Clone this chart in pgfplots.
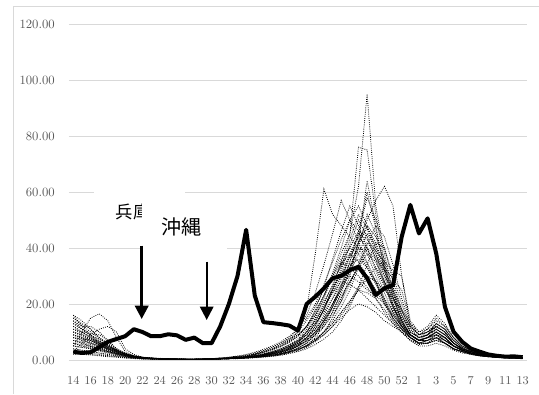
\documentclass[border=0pt]{standalone}
\usepackage{pgfplots}
\pgfplotsset{compat=1.18}
\usepackage{fontspec}
\usetikzlibrary{arrows.meta}
\newfontfamily\cjk{Noto Sans CJK JP}
\definecolor{gridc}{HTML}{D9D9D9}
\definecolor{lab}{HTML}{595959}
\newcommand\pl[1]{\addplot[dl] table[x expr=\coordindex, y index=0, header=false, row sep=\\]{#1\\};}
\begin{document}
\begin{tikzpicture}[x=0.75pt,y=0.75pt]
\path[use as bounding box] (0,0) rectangle (539,394);
\draw[gridc, line width=0.75pt] (13,0) -- (13,388) -- (539,388);
\begin{axis}[
  at={(51.75pt,25.5pt)}, anchor=south west,
  scale only axis, width=343.5pt, height=252pt,
  xmin=-0.5, xmax=52.5, ymin=0, ymax=120,
  axis line style={draw=none},
  major tick length=0pt,
  ytick={0,20,...,120},
  xtick={0,2,...,52},
  xticklabels={14,16,18,20,22,24,26,28,30,32,34,36,38,40,42,44,46,48,50,52,1,3,5,7,9,11,13},
  xmajorgrids=false, ymajorgrids=true,
  major grid style={draw=gridc, line width=0.75pt},
  yticklabel style={anchor=east, inner sep=0pt, xshift=-10.5pt, font=\fontsize{9.5}{10}\selectfont, text=lab},
  xticklabel style={anchor=north, inner sep=0pt, yshift=-12pt, font=\fontsize{9}{10}\selectfont, text=lab},
  /pgf/number format/.cd, fixed, fixed zerofill, precision=2, assume math mode=true,
  /pgfplots/.cd,
  dl/.style={black, line width=0.6pt, densely dotted},
]
\pl{15\\13\\11\\8\\6\\4\\2.5\\1.5\\1.0\\0.8\\0.6\\0.5\\0.4\\0.4\\0.3\\0.4\\0.5\\0.6\\0.8\\1.0\\1.3\\1.6\\2.0\\2.6\\3.2\\4.5\\6.5\\10\\15\\22\\30\\38\\45\\62\\95\\55\\38\\24\\15\\10\\8\\9\\11\\9\\6\\4\\2.8\\2\\1.5\\1.2\\1\\0.9\\0.8}
\pl{8\\7\\6\\5\\4\\3\\2\\1.2\\0.8\\0.6\\0.5\\0.4\\0.3\\0.3\\0.3\\0.3\\0.4\\0.5\\0.6\\0.8\\1.0\\1.2\\1.5\\2.0\\2.5\\3.5\\5\\8\\12\\18\\26\\35\\45\\76\\75\\52\\35\\22\\14\\9\\7\\8\\10\\8\\5\\3.5\\2.5\\1.8\\1.3\\1\\0.9\\0.8\\0.7}
\pl{4\\3.5\\3\\2.5\\2\\1.5\\1\\0.8\\0.5\\0.4\\0.3\\0.3\\0.3\\0.2\\0.2\\0.3\\0.4\\0.5\\0.7\\1.0\\1.4\\2.0\\2.8\\3.8\\5\\7\\10\\18\\38\\61\\52\\48\\44\\40\\34\\28\\20\\14\\10\\7\\6\\7\\8\\6\\4\\3\\2\\1.5\\1.2\\1\\0.8\\0.7\\0.6}
\pl{6\\5\\4.5\\4\\3\\2\\1.2\\0.8\\0.5\\0.4\\0.3\\0.3\\0.2\\0.2\\0.2\\0.2\\0.3\\0.4\\0.5\\0.6\\0.8\\1.0\\1.2\\1.5\\2\\2.8\\3.5\\5\\8\\12\\17\\24\\32\\42\\50\\57\\62\\55\\30\\12\\9\\10\\12\\10\\6\\4\\3\\2\\1.5\\1.2\\1\\0.8\\0.7}
\pl{5\\10\\15\\16.5\\14\\8\\3\\1.5\\1\\0.6\\0.5\\0.4\\0.3\\0.3\\0.3\\0.4\\0.5\\0.6\\0.7\\0.9\\1.1\\1.4\\1.8\\2.4\\3\\4\\5.5\\8\\11\\15\\20\\26\\33\\42\\48\\44\\36\\25\\16\\10\\8\\9\\12\\10\\6\\4\\3\\2\\1.5\\1.2\\1\\0.9\\0.8}
\pl{3\\6\\9\\11\\12\\10\\4\\2\\1\\0.7\\0.5\\0.4\\0.4\\0.3\\0.3\\0.3\\0.4\\0.5\\0.6\\0.8\\1.0\\1.3\\1.6\\2.2\\3\\4.2\\6\\10\\14\\20\\27\\34\\40\\46\\44\\36\\28\\20\\14\\9\\7\\8\\9\\7\\5\\3.5\\2.5\\1.8\\1.3\\1.1\\0.9\\0.8\\0.7}
\pl{16\\12\\9\\6\\4\\2.5\\1.5\\1\\0.7\\0.5\\0.4\\0.3\\0.3\\0.2\\0.2\\0.2\\0.3\\0.4\\0.5\\0.6\\0.8\\1.0\\1.3\\1.7\\2.2\\3\\4\\5\\7\\9\\12\\15\\18\\20\\19\\17\\14\\12\\10\\8\\6\\6\\7\\6\\4\\3\\2\\1.5\\1.2\\1\\0.8\\0.7\\0.6}
\pl{12\\10\\8\\6.5\\5\\3.5\\2.2\\1.4\\0.9\\0.6\\0.5\\0.4\\0.3\\0.3\\0.3\\0.3\\0.4\\0.5\\0.6\\0.8\\1.0\\1.3\\1.7\\2.3\\3\\4\\5.5\\8\\12\\18\\25\\33\\43\\52\\47\\38\\28\\19\\12\\8\\7\\8\\10\\8\\5\\3.5\\2.5\\1.8\\1.4\\1.1\\0.9\\0.8\\0.7}
\pl{10\\9\\7\\5.5\\4\\3\\2\\1.3\\0.8\\0.6\\0.4\\0.3\\0.3\\0.2\\0.2\\0.3\\0.3\\0.5\\0.7\\1.0\\1.4\\2\\2.8\\3.8\\5\\6.5\\8.5\\12\\17\\23\\30\\36\\40\\38\\33\\27\\21\\16\\12\\9\\7\\7\\9\\7\\5\\3.5\\2.5\\1.8\\1.4\\1.1\\0.9\\0.8\\0.7}
\pl{7\\6\\5\\4\\3\\2.2\\1.5\\1\\0.7\\0.5\\0.4\\0.3\\0.2\\0.2\\0.2\\0.2\\0.3\\0.4\\0.5\\0.6\\0.8\\1.0\\1.3\\1.7\\2.2\\3\\4.2\\6\\9\\14\\20\\27\\35\\45\\58\\50\\40\\28\\18\\11\\8\\9\\13\\11\\7\\4.5\\3\\2.2\\1.6\\1.3\\1.1\\0.9\\0.8}
\pl{9\\8\\6.5\\5\\3.8\\2.6\\1.6\\1\\0.7\\0.5\\0.4\\0.3\\0.3\\0.2\\0.2\\0.3\\0.4\\0.5\\0.6\\0.8\\1.1\\1.4\\1.8\\2.4\\3.2\\4.4\\6\\8\\11\\16\\22\\29\\37\\45\\43\\39\\35\\32\\30\\14\\10\\12\\16\\13\\8\\5\\3.5\\2.5\\1.8\\1.4\\1.1\\0.9\\0.8}
\pl{14\\11\\8.5\\6.5\\4.5\\3\\2\\1.2\\0.8\\0.6\\0.5\\0.4\\0.3\\0.3\\0.3\\0.3\\0.4\\0.6\\0.8\\1.1\\1.5\\2.1\\3\\4\\5.5\\7.5\\10\\14\\19\\25\\30\\35\\33\\30\\26\\22\\18\\14\\11\\8\\6\\6\\8\\6\\4\\3\\2.2\\1.6\\1.2\\1\\0.8\\0.7\\0.6}
\pl{5\\4.5\\4\\3.2\\2.5\\1.8\\1.2\\0.8\\0.5\\0.4\\0.3\\0.3\\0.2\\0.2\\0.2\\0.2\\0.3\\0.4\\0.5\\0.6\\0.7\\0.9\\1.2\\1.5\\2\\2.7\\3.6\\5\\7\\10\\15\\21\\30\\42\\64\\48\\32\\20\\12\\8\\6\\7\\8\\7\\5\\3.5\\2.5\\1.8\\1.3\\1.1\\0.9\\0.8\\0.7}
\pl{3\\2.8\\2.5\\2\\1.6\\1.2\\0.9\\0.6\\0.4\\0.3\\0.3\\0.2\\0.2\\0.2\\0.2\\0.2\\0.3\\0.4\\0.5\\0.6\\0.8\\1.0\\1.3\\1.6\\2.1\\2.8\\3.8\\5\\7\\10\\14\\19\\25\\33\\41\\48\\44\\34\\22\\12\\9\\10\\13\\11\\7\\4.5\\3.2\\2.3\\1.7\\1.3\\1.1\\0.9\\0.8}
\pl{11\\10\\9.5\\9\\7\\4\\2\\1.2\\0.8\\0.6\\0.5\\0.4\\0.3\\0.3\\0.3\\0.3\\0.4\\0.5\\0.6\\0.8\\1.0\\1.4\\1.9\\2.6\\3.5\\4.8\\6.5\\9\\13\\17\\22\\27\\30\\28\\25\\23\\20\\16\\12\\9\\7\\7\\8\\7\\5\\3.5\\2.5\\1.8\\1.3\\1.1\\0.9\\0.8\\0.7}
\pl{2\\2\\1.8\\1.5\\1.2\\1\\0.7\\0.5\\0.4\\0.3\\0.3\\0.3\\0.3\\0.3\\0.3\\0.4\\0.5\\0.7\\1.0\\1.4\\2\\2.8\\3.8\\5\\6.5\\8.5\\11\\15\\20\\27\\35\\43\\50\\55\\48\\40\\30\\20\\13\\9\\7\\8\\9\\8\\5\\3.5\\2.5\\1.8\\1.3\\1.1\\0.9\\0.8\\0.7}
\pl{8\\7\\6\\5\\4\\3\\2\\1.2\\0.7\\0.5\\0.4\\0.3\\0.3\\0.2\\0.2\\0.2\\0.3\\0.4\\0.5\\0.6\\0.8\\1.1\\1.5\\2\\2.6\\3.5\\4.8\\6.5\\9\\12\\16\\21\\27\\34\\42\\38\\30\\25\\18\\13\\10\\11\\14\\12\\8\\5\\3.5\\2.5\\1.8\\1.4\\1.1\\0.9\\0.8}
\pl{13\\11\\9\\7\\5\\3.5\\2.3\\1.4\\0.9\\0.7\\0.5\\0.4\\0.4\\0.3\\0.3\\0.3\\0.4\\0.5\\0.7\\0.9\\1.2\\1.6\\2.2\\3\\4\\5.5\\7.5\\11\\16\\23\\31\\40\\50\\46\\38\\30\\22\\15\\11\\8\\6\\6\\8\\6\\4\\3\\2.2\\1.6\\1.2\\1\\0.8\\0.7\\0.6}
\pl{6\\5.5\\4.8\\4\\3.2\\2.4\\1.6\\1\\0.6\\0.5\\0.4\\0.3\\0.3\\0.2\\0.2\\0.2\\0.3\\0.4\\0.5\\0.7\\0.9\\1.2\\1.6\\2.1\\2.8\\3.8\\5\\7\\10\\14\\18\\23\\28\\33\\38\\35\\27\\18\\12\\8\\6\\7\\9\\7\\5\\3.5\\2.5\\1.8\\1.3\\1.1\\0.9\\0.8\\0.7}
\pl{4\\3.5\\3\\2.5\\2\\1.5\\1\\0.7\\0.5\\0.4\\0.3\\0.3\\0.2\\0.2\\0.2\\0.2\\0.3\\0.3\\0.4\\0.5\\0.7\\0.9\\1.1\\1.4\\1.8\\2.4\\3.2\\4.5\\6.5\\9\\12\\16\\20\\25\\24\\22\\17\\13\\10\\7\\5\\5\\6\\5\\3.5\\2.5\\2\\1.5\\1.2\\1\\0.8\\0.7\\0.6}
\pl{15\\12.5\\10\\7.5\\5.5\\3.8\\2.4\\1.5\\1\\0.7\\0.5\\0.4\\0.3\\0.3\\0.3\\0.3\\0.4\\0.5\\0.6\\0.8\\1.1\\1.5\\2\\2.7\\3.6\\5\\7\\10\\14\\19\\25\\31\\38\\44\\40\\33\\26\\19\\13\\9\\7\\8\\10\\8\\5\\3.5\\2.5\\1.8\\1.4\\1.1\\0.9\\0.8\\0.7}
\pl{10\\8.5\\7\\5.5\\4\\2.8\\1.8\\1.1\\0.7\\0.5\\0.4\\0.3\\0.3\\0.3\\0.3\\0.3\\0.4\\0.6\\0.8\\1.1\\1.6\\2.3\\3.2\\4.4\\6\\8\\11\\16\\24\\34\\45\\57\\50\\42\\35\\28\\21\\15\\11\\8\\6\\6\\7\\6\\4\\3\\2.2\\1.6\\1.2\\1\\0.8\\0.7\\0.6}
\pl{7\\6\\5\\4.2\\3.3\\2.5\\1.7\\1.1\\0.7\\0.5\\0.4\\0.3\\0.3\\0.2\\0.2\\0.2\\0.3\\0.4\\0.5\\0.6\\0.8\\1.0\\1.3\\1.7\\2.2\\2.9\\3.8\\5\\7\\10\\13\\17\\21\\25\\29\\33\\28\\22\\17\\11\\8\\9\\11\\9\\6\\4\\3\\2.2\\1.6\\1.3\\1.1\\0.9\\0.8}
\pl{11\\9.5\\8\\6\\4.5\\3.2\\2.1\\1.3\\0.8\\0.6\\0.5\\0.4\\0.3\\0.3\\0.3\\0.3\\0.4\\0.5\\0.6\\0.8\\1.0\\1.3\\1.8\\2.4\\3.2\\4.3\\5.8\\8\\11\\15\\20\\26\\33\\40\\39\\36\\32\\26\\18\\10\\8\\10\\12\\10\\6\\4\\3\\2.2\\1.6\\1.3\\1.1\\0.9\\0.8}
\pl{9\\7.5\\6\\4.8\\3.6\\2.5\\1.6\\1\\0.6\\0.5\\0.4\\0.3\\0.2\\0.2\\0.2\\0.2\\0.3\\0.4\\0.5\\0.7\\0.9\\1.2\\1.6\\2.1\\2.8\\3.7\\5\\7\\10\\14\\19\\25\\32\\40\\52\\45\\34\\23\\14\\9\\7\\8\\10\\8\\5\\3.5\\2.5\\1.8\\1.4\\1.1\\0.9\\0.8\\0.7}
\pl{13\\11\\9\\7\\5\\3.5\\2.2\\1.4\\0.9\\0.6\\0.5\\0.4\\0.3\\0.3\\0.3\\0.3\\0.4\\0.5\\0.6\\0.8\\1.1\\1.5\\2\\2.7\\3.6\\4.8\\6.5\\9\\13\\18\\24\\30\\37\\42\\47\\42\\33\\24\\16\\10\\8\\9\\11\\9\\6\\4\\3\\2.1\\1.5\\1.2\\1\\0.9\\0.8}
\pl{12\\10\\8\\6\\4.5\\3\\2\\1.2\\0.8\\0.6\\0.5\\0.4\\0.4\\0.3\\0.3\\0.4\\0.5\\0.7\\1.0\\1.3\\1.8\\2.5\\3.4\\4.6\\6\\7.5\\9\\12\\16\\21\\26\\31\\34\\36\\33\\28\\22\\17\\12\\9\\7\\8\\10\\8\\5\\3.5\\2.5\\1.8\\1.4\\1.1\\0.9\\0.8\\0.7}
\pl{8\\7.5\\7\\6\\5\\3.5\\2\\1.2\\0.8\\0.5\\0.4\\0.3\\0.3\\0.2\\0.2\\0.3\\0.4\\0.5\\0.6\\0.8\\1.0\\1.3\\1.7\\2.3\\3\\4\\5.5\\7.5\\10\\14\\19\\25\\31\\38\\45\\41\\32\\22\\14\\9\\7\\8\\11\\9\\6\\4\\3\\2.1\\1.5\\1.2\\1\\0.9\\0.8}
\pl{14\\12\\12\\10\\7\\4\\2.2\\1.3\\0.8\\0.6\\0.5\\0.4\\0.3\\0.3\\0.3\\0.3\\0.4\\0.6\\0.8\\1.0\\1.4\\1.9\\2.6\\3.5\\4.7\\6.3\\8.5\\12\\18\\26\\36\\46\\55\\48\\40\\32\\24\\17\\12\\9\\7\\7\\9\\7\\5\\3.5\\2.5\\1.8\\1.3\\1.1\\0.9\\0.8\\0.7}
\pl{5\\4.5\\4\\3.5\\3\\2.2\\1.5\\1\\0.6\\0.5\\0.4\\0.3\\0.2\\0.2\\0.2\\0.2\\0.3\\0.4\\0.5\\0.7\\0.9\\1.1\\1.4\\1.8\\2.3\\3\\4\\5.5\\7.5\\10\\13\\17\\21\\26\\30\\28\\25\\22\\18\\12\\9\\11\\15\\12\\8\\5\\3.5\\2.5\\1.8\\1.4\\1.1\\0.9\\0.8}
\pl{2.5\\2.3\\2\\1.7\\1.4\\1.1\\0.8\\0.6\\0.4\\0.3\\0.3\\0.2\\0.2\\0.2\\0.2\\0.2\\0.3\\0.3\\0.4\\0.5\\0.6\\0.8\\1.0\\1.3\\1.7\\2.3\\3\\4\\5.5\\7.5\\10\\14\\19\\26\\34\\42\\40\\30\\20\\12\\9\\10\\12\\10\\6\\4\\3\\2.2\\1.6\\1.3\\1.1\\0.9\\0.8}
\pl{9\\8\\7\\5.5\\4\\2.8\\1.8\\1.1\\0.7\\0.5\\0.4\\0.3\\0.3\\0.2\\0.2\\0.3\\0.4\\0.5\\0.6\\0.8\\1.1\\1.5\\2\\2.7\\3.6\\4.8\\6.5\\9\\13\\18\\25\\32\\41\\50\\44\\36\\27\\19\\13\\9\\7\\8\\9\\8\\5\\3.5\\2.5\\1.8\\1.3\\1.1\\0.9\\0.8\\0.7}
\pl{16\\14\\11\\8\\5.5\\3.5\\2.2\\1.4\\0.9\\0.7\\0.5\\0.4\\0.4\\0.3\\0.3\\0.4\\0.5\\0.6\\0.8\\1.1\\1.5\\2\\2.8\\3.8\\5\\6.8\\9\\12\\17\\23\\29\\34\\38\\35\\30\\25\\20\\15\\11\\8\\6\\6\\8\\6\\4\\3\\2.2\\1.6\\1.2\\1\\0.8\\0.7\\0.6}
\pl{6\\5\\4.2\\3.5\\2.7\\2\\1.3\\0.9\\0.6\\0.4\\0.3\\0.3\\0.2\\0.2\\0.2\\0.2\\0.3\\0.4\\0.5\\0.6\\0.8\\1.0\\1.3\\1.7\\2.3\\3.1\\4.3\\6\\9\\13\\19\\26\\35\\46\\60\\47\\33\\22\\14\\9\\7\\9\\12\\10\\6\\4\\3\\2.1\\1.5\\1.2\\1\\0.9\\0.8}
\pl{10\\9\\7.5\\6\\4.5\\3\\2\\1.2\\0.8\\0.6\\0.4\\0.3\\0.3\\0.3\\0.3\\0.3\\0.4\\0.5\\0.7\\0.9\\1.2\\1.6\\2.2\\3\\4\\5.3\\7\\10\\14\\19\\24\\28\\27\\25\\22\\19\\16\\13\\10\\7\\5.5\\6\\7\\6\\4\\3\\2.2\\1.6\\1.2\\1\\0.8\\0.7\\0.6}
\pl{7\\6.5\\5.5\\4.5\\3.5\\2.5\\1.6\\1\\0.7\\0.5\\0.4\\0.3\\0.3\\0.2\\0.2\\0.3\\0.3\\0.4\\0.5\\0.7\\0.9\\1.2\\1.6\\2.1\\2.8\\3.7\\5\\7\\9.5\\13\\17\\22\\28\\34\\40\\37\\33\\29\\25\\13\\9\\10\\13\\11\\7\\4.5\\3.2\\2.3\\1.7\\1.3\\1.1\\0.9\\0.8}
% Okinawa
\addplot[black, line width=3pt, line join=round] table[x expr=\coordindex, y index=0, header=false, row sep=\\]{3.0\\2.5\\2.8\\4.5\\6.5\\7.5\\8.5\\11\\10\\8.5\\8.5\\9.2\\8.8\\7.2\\8.0\\6.0\\6.0\\12\\20\\30\\46.5\\23\\13.5\\13.2\\12.8\\12.3\\10.5\\20\\22.6\\25.6\\29.2\\30\\32.1\\33.3\\29.2\\23.2\\25.6\\26.8\\44\\55.4\\45.2\\50.6\\38\\19\\10.1\\6.5\\4.1\\3\\2\\1.5\\1.2\\1.3\\1.0\\};
\end{axis}
% annotations (pixel coordinates, origin bottom-left)
\fill[white] (94,204) rectangle (185,160);
\node[font=\cjk\fontsize{13}{14}\selectfont, anchor=west, inner sep=0pt] at (115.5,182.5) {兵庫};
\fill[white] (142,196) rectangle (227,140);
\node[font=\cjk\fontsize{15}{16}\selectfont, anchor=west, inner sep=0pt] at (161,167.5) {沖縄};
\draw[black, line width=2pt, -{Triangle[width=10pt,length=10pt]}] (141.7,148.5) -- (141.7,75);
\draw[black, line width=1.6pt, -{Triangle[width=10pt,length=10pt]}] (206.7,132.5) -- (206.7,74);
\end{tikzpicture}
\end{document}
